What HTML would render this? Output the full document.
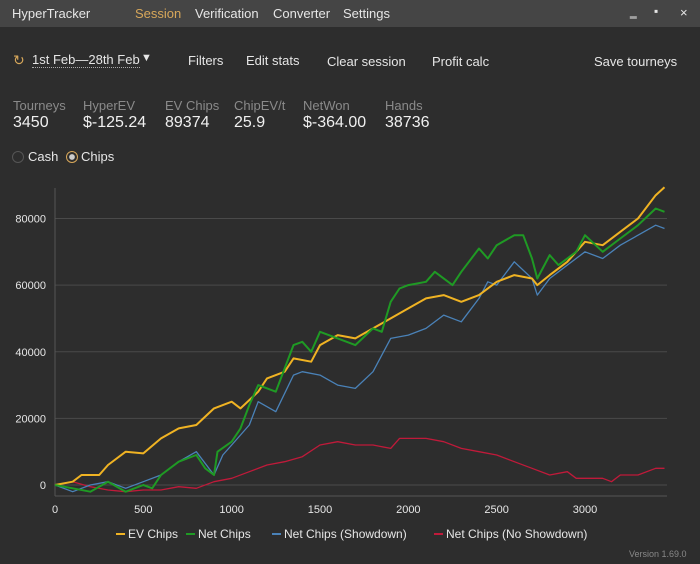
<!DOCTYPE html>
<html><head><meta charset="utf-8"><style>
body{margin:0;width:700px;height:564px;background:#2d2d2d;font-family:"Liberation Sans",sans-serif;color:#e6e6e6;overflow:hidden;position:relative}
.t{position:absolute;white-space:nowrap}
#bar{position:absolute;left:0;top:0;width:700px;height:27px;background:#454545}
.lbl{color:#8a8a8a;font-size:13px}
.val{color:#f0f0f0;font-size:16px}
</style></head><body>
<div id="bar"></div>
<div class="t" style="left:12px;top:6px;font-size:13px">HyperTracker</div>
<div class="t" style="left:135px;top:6px;font-size:13px;color:#d7a75a">Session</div>
<div class="t" style="left:195px;top:6px;font-size:13px">Verification</div>
<div class="t" style="left:273px;top:6px;font-size:13px">Converter</div>
<div class="t" style="left:343px;top:6px;font-size:13px">Settings</div>
<div class="t" style="left:630px;top:5px;font-size:12px">‗</div>
<div class="t" style="left:654px;top:4px;font-size:12px">▪</div>
<div class="t" style="left:680px;top:5px;font-size:13px">×</div>

<div class="t" style="left:13px;top:52px;font-size:14px;color:#d7a75a">↻</div>
<div class="t" style="left:32px;top:52px;font-size:13px;border-bottom:1px dotted #aaa">1st Feb—28th Feb</div>
<div class="t" style="left:141px;top:52px;font-size:11px">▼</div>
<div class="t" style="left:188px;top:53px;font-size:13px">Filters</div>
<div class="t" style="left:246px;top:53px;font-size:13px">Edit stats</div>
<div class="t" style="left:327px;top:54px;font-size:13px">Clear session</div>
<div class="t" style="left:432px;top:54px;font-size:13px">Profit calc</div>
<div class="t" style="left:594px;top:54px;font-size:13px">Save tourneys</div>

<div class="t lbl" style="left:13px;top:98px">Tourneys</div>
<div class="t val" style="left:13px;top:114px">3450</div>
<div class="t lbl" style="left:83px;top:98px">HyperEV</div>
<div class="t val" style="left:83px;top:114px">$-125.24</div>
<div class="t lbl" style="left:165px;top:98px">EV Chips</div>
<div class="t val" style="left:165px;top:114px">89374</div>
<div class="t lbl" style="left:234px;top:98px">ChipEV/t</div>
<div class="t val" style="left:234px;top:114px">25.9</div>
<div class="t lbl" style="left:303px;top:98px">NetWon</div>
<div class="t val" style="left:303px;top:114px">$-364.00</div>
<div class="t lbl" style="left:385px;top:98px">Hands</div>
<div class="t val" style="left:385px;top:114px">38736</div>

<div class="t" style="left:12px;top:151px;width:10px;height:10px;border:1px solid #555;border-radius:50%"></div>
<div class="t" style="left:28px;top:149px;font-size:13px">Cash</div>
<div class="t" style="left:66px;top:151px;width:10px;height:10px;border:1px solid #d7a75a;border-radius:50%;background:radial-gradient(#ccc 35%,transparent 45%)"></div>
<div class="t" style="left:81px;top:149px;font-size:13px">Chips</div>

<svg id="chart" width="700" height="564" style="position:absolute;left:0;top:0"></svg>
<div class="t" style="left:629px;top:549px;font-size:9px;color:#888">Version 1.69.0</div>
<script>
const xsEV=[0,100,150,250,300,400,500,600,700,800,900,1000,1050,1150,1200,1300,1350,1450,1500,1600,1700,1800,1900,2000,2100,2200,2300,2400,2500,2600,2700,2730,2800,2900,3000,3100,3200,3300,3400,3450];
const evChips=[0,1000,3000,3000,6000,10000,9500,14000,17000,18000,23000,25000,23000,28000,32000,34000,38000,37000,42000,45000,44000,47000,50000,53000,56000,57000,55000,57000,61000,63000,62000,60000,63000,67000,73000,72000,76000,80000,87000,89374];
const xsNet=[0,100,200,300,400,500,550,600,700,800,850,900,920,1000,1050,1100,1150,1250,1350,1400,1450,1500,1600,1700,1800,1850,1900,1950,2000,2100,2150,2250,2300,2400,2450,2500,2600,2650,2700,2730,2800,2850,2950,3000,3100,3200,3300,3400,3450];
const netChips=[0,-1000,-2000,1000,-2000,0,-1000,3000,7000,9000,5000,3000,10000,13000,17000,24000,30000,28000,42000,43000,40000,46000,44000,42000,47000,46000,55000,59000,60000,61000,64000,60000,64000,71000,68000,72000,75000,75000,68000,62000,69000,66000,70000,75000,70000,74000,78000,83000,82000];
const xsSd=[0,100,200,300,400,500,600,700,800,900,950,1000,1100,1150,1250,1350,1400,1500,1600,1700,1800,1900,2000,2100,2200,2300,2400,2450,2500,2600,2700,2730,2800,2900,3000,3100,3200,3300,3400,3450];
const sdChips=[0,-2000,0,1000,-1000,1000,3000,7000,10000,3000,9000,12000,18000,25000,22000,33000,34000,33000,30000,29000,34000,44000,45000,47000,51000,49000,56000,61000,60000,67000,62000,57000,62000,66000,70000,68000,72000,75000,78000,77000];
const xsNsd=[0,100,200,300,400,500,600,700,800,900,1000,1100,1200,1300,1400,1500,1600,1700,1800,1900,1950,2100,2200,2300,2400,2500,2600,2700,2800,2900,2950,3000,3100,3150,3200,3300,3400,3450];
const nsdChips=[0,1000,-500,-1500,-2000,-1500,-1500,-500,-1000,1000,2000,4000,6000,7000,8500,12000,13000,12000,12000,11000,14000,14000,13000,11000,10000,9000,7000,5000,3000,4000,2000,2000,2000,1000,3000,3000,5000,5000];
const yTicks=[0,20000,40000,60000,80000];
const xTicks=[0,500,1000,1500,2000,2500,3000];
const legendNames=["EV Chips","Net Chips","Net Chips (Showdown)","Net Chips (No Showdown)"];
const colors=["#f0b323","#1f9a24","#4a82b8","#c01a3a"];
const NS="http://www.w3.org/2000/svg";
const svg=document.getElementById('chart');
const X=v=>55+v*(530/3000);
const Y=v=>485-v*(266.5/80000);
function mk(tag,attrs){const e=document.createElementNS(NS,tag);for(const k in attrs)e.setAttribute(k,attrs[k]);svg.appendChild(e);return e;}
yTicks.forEach(t=>{
  const g=mk('line',{x1:55,x2:667,y1:Y(t),y2:Y(t),stroke:'#4a4a4a','stroke-width':1});
  
  
  const tx=mk('text',{x:46,y:Y(t)+4,'text-anchor':'end',fill:'#e6e6e6','font-size':11,'font-family':'Liberation Sans, sans-serif'});
  tx.textContent=t;
  
  
});
const ax=mk('line',{x1:55,x2:667,y1:496,y2:496,stroke:'#555'});


const ay=mk('line',{x1:55,x2:55,y1:188,y2:496,stroke:'#555'});


xTicks.forEach(t=>{
  const tx=mk('text',{x:X(t),y:513,'text-anchor':'middle',fill:'#e6e6e6','font-size':11,'font-family':'Liberation Sans, sans-serif'});
  tx.textContent=t;
  
  
});
const series=[[xsNsd,nsdChips,3],[xsSd,sdChips,2],[xsEV,evChips,0],[xsNet,netChips,1]];
const sNames=['no-showdown-line','showdown-line','ev-chips-line','net-chips-line'];
series.forEach((s,i)=>{
  const d=s[0].map((x,j)=>(j?'L':'M')+X(x).toFixed(1)+','+Y(s[1][j]).toFixed(1)).join('');
  const p=mk('path',{d:d,fill:'none',stroke:colors[s[2]],'stroke-width':s[2]<2?2:1.3,'stroke-linejoin':'round'});
  
  
});
let lx=116;
const lw=[70,86,162,150];
legendNames.forEach((n,i)=>{
  const l=mk('line',{x1:lx,x2:lx+9,y1:534,y2:534,stroke:colors[i],'stroke-width':2});
  
  
  const t=mk('text',{x:lx+12,y:538,fill:'#e6e6e6','font-size':12,'font-family':'Liberation Sans, sans-serif'});
  t.textContent=n;
  
  
  lx+=lw[i];
});
</script>
</body></html>
